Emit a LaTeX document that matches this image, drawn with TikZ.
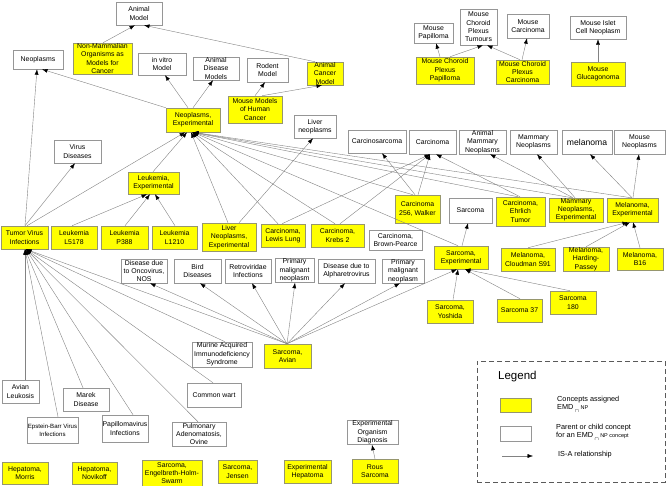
\documentclass[tikz,border=0pt]{standalone}
\usepackage{fontspec}
\setmainfont{Liberation Sans}
\usetikzlibrary{arrows.meta,calc}
\definecolor{ylw}{RGB}{255,255,0}
\definecolor{yborder}{RGB}{150,150,110}
\definecolor{boxgray}{RGB}{150,150,150}
\definecolor{linegray}{RGB}{130,130,130}
\definecolor{leggray}{RGB}{90,90,90}
\newcommand\mybox[7]{%
  \pgfmathsetmacro\bcx{(#3+#5)/2}%
  \pgfmathsetmacro\bcy{(#4+#6)/2}%
  \pgfmathsetmacro\bw{#5-#3}%
  \pgfmathsetmacro\bh{#6-#4}%
  \node[#1, minimum width=\bw pt, minimum height=\bh pt] (#2) at (\bcx,\bcy) {#7};}
\begin{document}
\begin{tikzpicture}[x=1pt,y=-1pt,
  box/.style={line width=0.5pt, align=center, inner sep=0.5pt, font=\fontsize{6.9}{8.3}\selectfont},
  wbox/.style={box, draw=boxgray, fill=white},
  ybox/.style={box, draw=yborder, fill=ylw},
  isa/.style={draw=linegray, line width=0.4pt, -{Latex[length=5.5pt,width=4pt,color=black]}},
  legtext/.style={anchor=west, align=left, inner sep=0pt, font=\fontsize{7.3}{8.5}\selectfont},
]
\useasboundingbox (0,0) rectangle (667,486);
% ---------- nodes ----------
\mybox{wbox}{animalmodel}{116}{2}{162}{25}{Animal\\Model}
\mybox{ybox}{nonmam}{73}{43}{132}{74}{Non-Mammalian\\Organisms as\\Models for\\Cancer}
\mybox{wbox}{neoplasms}{13}{50}{63}{69}{Neoplasms}
\mybox{wbox}{invitro}{138}{53}{186}{75}{in vitro\\Model}
\mybox{wbox}{adm}{193}{57}{239}{80}{Animal\\Disease\\Models}
\mybox{wbox}{rodent}{247}{58}{288}{82}{Rodent\\Model}
\mybox{ybox}{animalcancer}{307}{62}{343}{85}{Animal\\Cancer\\Model}
\mybox{ybox}{mousemodels}{228}{96}{282}{123}{Mouse Models\\of Human\\Cancer}
\mybox{ybox}{NE}{166}{108}{220}{132}{Neoplasms,\\Experimental}
\mybox{wbox}{liverneo}{294}{115}{336}{138}{Liver\\neoplasms}
\mybox{wbox}{mousepap}{414}{23}{453}{43}{Mouse\\Papilloma}
\mybox{wbox}{mcpt}{460}{9}{497}{45}{Mouse\\Choroid\\Plexus\\Tumours}
\mybox{ybox}{mcpp}{416}{57}{474}{84}{Mouse Choroid\\Plexus\\Papilloma}
\mybox{wbox}{mousecarc}{507}{14}{549}{38}{Mouse\\Carcinoma}
\mybox{wbox}{islet}{570}{16}{626}{39}{Mouse Islet\\Cell Neoplasm}
\mybox{ybox}{mcpc}{496}{60}{549}{84}{Mouse Choroid\\Plexus\\Carcinoma}
\mybox{ybox}{glucag}{571}{62}{625}{86}{Mouse\\Glucagonoma}
\mybox{wbox}{virus}{54}{140}{101}{163}{Virus\\Diseases}
\mybox{wbox}{carcsarc}{348}{130}{406}{153}{Carcinosarcoma}
\mybox{wbox}{carcinoma}{409}{130}{456}{154}{Carcinoma}
\mybox{wbox}{amn}{459}{130}{506}{154}{Animal\\Mammary\\Neoplasms}
\mybox{wbox}{mammary}{510}{130}{557}{154}{Mammary\\Neoplasms}
\mybox{wbox,font=\fontsize{8.6}{9}\selectfont}{melanoma}{562}{130}{612}{154}{melanoma}
\mybox{wbox}{mouseneo}{614}{130}{665}{154}{Mouse\\Neoplasms}
\mybox{ybox}{leukexp}{128}{172}{179}{194}{Leukemia,\\Experimental}
\mybox{ybox}{walker}{395}{195}{440}{223}{Carcinoma\\256, Walker}
\mybox{wbox}{sarcoma}{449}{198}{492}{223}{Sarcoma}
\mybox{ybox}{ehrlich}{496}{197}{545}{226}{Carcinoma,\\Ehrlich\\Tumor}
\mybox{ybox}{mammexp}{549}{198}{603}{222}{Mammary\\Neoplasms,\\Experimental}
\mybox{ybox}{melexp}{607}{198}{658}{222}{Melanoma,\\Experimental}
\mybox{ybox}{liverexp}{202}{223}{256}{251}{Liver\\Neoplasms,\\Experimental}
\mybox{ybox}{lewis}{261}{224}{305}{247}{Carcinoma,\\Lewis Lung}
\mybox{ybox}{krebs}{311}{224}{364}{247}{Carcinoma,\\Krebs 2}
\mybox{ybox}{tvi}{1}{226}{48}{249}{Tumor Virus\\Infections}
\mybox{ybox}{lfive}{51}{226}{97}{249}{Leukemia\\L5178}
\mybox{ybox}{pthree}{101}{226}{148}{249}{Leukemia\\P388}
\mybox{ybox}{lone}{152}{226}{197}{249}{Leukemia\\L1210}
\mybox{wbox}{brown}{369}{230}{422}{250}{Carcinoma,\\Brown-Pearce}
\mybox{ybox}{sarcexp}{434}{246}{488}{269}{Sarcoma,\\Experimental}
\mybox{ybox}{cloudman}{501}{248}{555}{271}{Melanoma,\\Cloudman S91}
\mybox{ybox}{harding}{563}{247}{609}{271}{Melanoma,\\Harding-\\Passey}
\mybox{ybox}{bsixteen}{617}{248}{663}{270}{Melanoma,\\B16}
\mybox{wbox}{oncovirus}{121}{259}{167}{283}{Disease due\\to Oncovirus,\\NOS}
\mybox{wbox}{bird}{174}{259}{221}{283}{Bird\\Diseases}
\mybox{wbox}{retro}{225}{259}{271}{283}{Retroviridae\\Infections}
\mybox{wbox}{pmnone}{275}{259}{314}{282}{Primary\\malignant\\neoplasm}
\mybox{wbox}{alpha}{318}{259}{375}{283}{Disease due to\\Alpharetrovirus}
\mybox{wbox}{pmntwo}{382}{259}{424}{283}{Primary\\malignant\\neoplasm}
\mybox{ybox}{seighty}{550}{291}{596}{314}{Sarcoma\\180}
\mybox{ybox}{sthirty}{497}{299}{542}{322}{Sarcoma 37}
\mybox{ybox}{yoshida}{427}{300}{473}{323}{Sarcoma,\\Yoshida}
\mybox{wbox}{murine}{192}{342}{252}{367}{Murine Acquired\\Immunodeficiency\\Syndrome}
\mybox{ybox}{avian}{264}{344}{311}{368}{Sarcoma,\\Avian}
\mybox{wbox}{avleuk}{2}{380}{39}{403}{Avian\\Leukosis}
\mybox{wbox}{wart}{187}{383}{241}{407}{Common wart}
\mybox{wbox}{marek}{63}{388}{109}{411}{Marek\\Disease}
\mybox{wbox,font=\fontsize{6.1}{8}\selectfont}{ebv}{27}{417}{78}{443}{Epstein-Barr Virus\\Infections}
\mybox{wbox}{papv}{102}{415}{148}{442}{Papillomavirus\\Infections}
\mybox{wbox}{pulm}{172}{422}{226}{446}{Pulmonary\\Adenomatosis,\\Ovine}
\mybox{wbox}{eod}{347}{421}{398}{444}{Experimental\\Organism\\Diagnosis}
\mybox{ybox}{hmorris}{2}{462}{48}{484}{Hepatoma,\\Morris}
\mybox{ybox}{hnovi}{72}{462}{117}{484}{Hepatoma,\\Novikoff}
\mybox{ybox}{ehs}{142}{460}{202}{486}{Sarcoma,\\Engelbreth-Holm-\\Swarm}
\mybox{ybox}{jensen}{218}{460}{257}{483}{Sarcoma,\\Jensen}
\mybox{ybox}{exphep}{284}{460}{331}{483}{Experimental\\Hepatoma}
\mybox{ybox}{rous}{352}{459}{398}{483}{Rous\\Sarcoma}
% ---------- edges ----------
\draw[isa] (103,0 |- nonmam.north) -- (135,0 |- animalmodel.south);
\draw[isa] (315,0 |- animalcancer.north) -- (144,0 |- animalmodel.south);
\draw[isa] (255,0 |- mousemodels.north) -- (265,0 |- rodent.south);
\draw[isa] (262,0 |- mousemodels.north) -- (322,0 |- animalcancer.south);
\draw[isa] (188,0 |- NE.north) -- (165,0 |- invitro.south);
\draw[isa] (193,0 |- NE.north) -- (213,0 |- adm.south);
\draw[isa] (NE.north west) -- (42,0 |- neoplasms.south);
\draw[isa] (25,0 |- tvi.north) -- (37,0 |- neoplasms.south);
\draw[isa] (25,0 |- tvi.north) -- (75,0 |- virus.south);
\draw[isa] (27,0 |- tvi.north) -- (185,0 |- NE.south);
\draw[isa] (72,0 |- lfive.north) -- (147,0 |- leukexp.south);
\draw[isa] (125,0 |- pthree.north) -- (150,0 |- leukexp.south);
\draw[isa] (175,0 |- lone.north) -- (155,0 |- leukexp.south);
\draw[isa] (153,0 |- leukexp.north) -- (187,0 |- NE.south);
\draw[isa] (228,0 |- liverexp.north) -- (191,0 |- NE.south);
\draw[isa] (239,0 |- liverexp.north) -- (313,0 |- liverneo.south);
\draw[isa] (282,0 |- lewis.north) -- (430,0 |- carcinoma.south);
\draw[isa] (278,0 |- lewis.north) -- (192,0 |- NE.south);
\draw[isa] (335,0 |- krebs.north) -- (192,0 |- NE.south);
\draw[isa] (340,0 |- krebs.north) -- (430,0 |- carcinoma.south);
\draw[isa] (418,0 |- walker.north) -- (430,0 |- carcinoma.south);
\draw[isa] (415,0 |- walker.north) -- (382,0 |- carcsarc.south);
\draw[isa] (413,0 |- walker.north) -- (193,0 |- NE.south);
\draw[isa] (520,0 |- ehrlich.north) -- (436,0 |- carcinoma.south);
\draw[isa] (518,0 |- ehrlich.north) -- (193,0 |- NE.south);
\draw[isa] (575,0 |- mammexp.north) -- (537,0 |- mammary.south);
\draw[isa] (573,0 |- mammexp.north) -- (490,0 |- amn.south);
\draw[isa] (572,0 |- mammexp.north) -- (193,0 |- NE.south);
\draw[isa] (632,0 |- melexp.north) -- (590,0 |- melanoma.south);
\draw[isa] (633,0 |- melexp.north) -- (639,0 |- mouseneo.south);
\draw[isa] (631,0 |- melexp.north) -- (193,0 |- NE.south);
\draw[isa] (458,0 |- sarcexp.north) -- (193,0 |- NE.south);
\draw[isa] (462,0 |- sarcexp.north) -- (468,0 |- sarcoma.south);
\draw[isa] (453,0 |- yoshida.north) -- (458,0 |- sarcexp.south);
\draw[isa] (520,0 |- sthirty.north) -- (465,0 |- sarcexp.south);
\draw[isa] (570,0 |- seighty.north) -- (465,0 |- sarcexp.south);
\draw[isa] (528,0 |- cloudman.north) -- (628,0 |- melexp.south);
\draw[isa] (586,0 |- harding.north) -- (630,0 |- melexp.south);
\draw[isa] (640,0 |- bsixteen.north) -- (633,0 |- melexp.south);
\draw[isa] (440,0 |- mcpp.north) -- (436,0 |- mousepap.south);
\draw[isa] (450,0 |- mcpp.north) -- (483,0 |- mcpt.south);
\draw[isa] (520,0 |- mcpc.north) -- (487,0 |- mcpt.south);
\draw[isa] (522,0 |- mcpc.north) -- (527,0 |- mousecarc.south);
\draw[isa] (598,0 |- glucag.north) -- (598,0 |- islet.south);
\draw[isa] (375,0 |- rous.north) -- (372,0 |- eod.south);
\foreach \t/\x in {oncovirus/150, bird/200, retro/252, pmnone/295, alpha/345, pmntwo/400, sarcexp/457}
  \draw[isa] (287,0 |- avian.north) -- (\x,0 |- \t.south);
\draw[isa] (287,0 |- avian.north) -- (26,0 |- tvi.south);
\draw[isa] (25,0 |- avleuk.north) -- (25,0 |- tvi.south);
\draw[isa] (58,0 |- ebv.north) -- (25,0 |- tvi.south);
\draw[isa] (83,0 |- marek.north) -- (25,0 |- tvi.south);
\draw[isa] (133,0 |- papv.north) -- (26,0 |- tvi.south);
\draw[isa] (198,0 |- pulm.north) -- (26,0 |- tvi.south);
\draw[isa] (213,0 |- wart.north) -- (26,0 |- tvi.south);
\draw[isa] (225,0 |- murine.north) -- (26,0 |- tvi.south);
% ---------- legend ----------
\mybox{draw=leggray, dash pattern=on 5pt off 3pt, line width=0.6pt}{legend}{477}{361}{665}{482}{}
\node[anchor=west, inner sep=0pt, font=\fontsize{11.5}{12}\selectfont] (legtitle) at (498,377) {Legend};
\mybox{ybox}{swy}{500}{398}{531}{412}{}
\mybox{wbox}{sww}{500}{426}{531}{441}{}
\node[legtext] (lt1) at (557,404) {Concepts assigned\\EMD\,\raisebox{-2.5pt}{$\scriptstyle\cap$}\,{\fontsize{5.5}{6}\selectfont NP}};
\node[legtext] (lt2) at (556,432) {Parent or child concept\\for an EMD\,\raisebox{-2.5pt}{$\scriptstyle\cap$}\,{\fontsize{5.5}{6}\selectfont NP concept}};
\coordinate (la) at (502,456);
\coordinate (lb) at (533,456);
\draw[isa] (la) -- (lb);
\node[legtext] (lt3) at (558,455) {IS-A relationship};
\end{tikzpicture}
\end{document}
